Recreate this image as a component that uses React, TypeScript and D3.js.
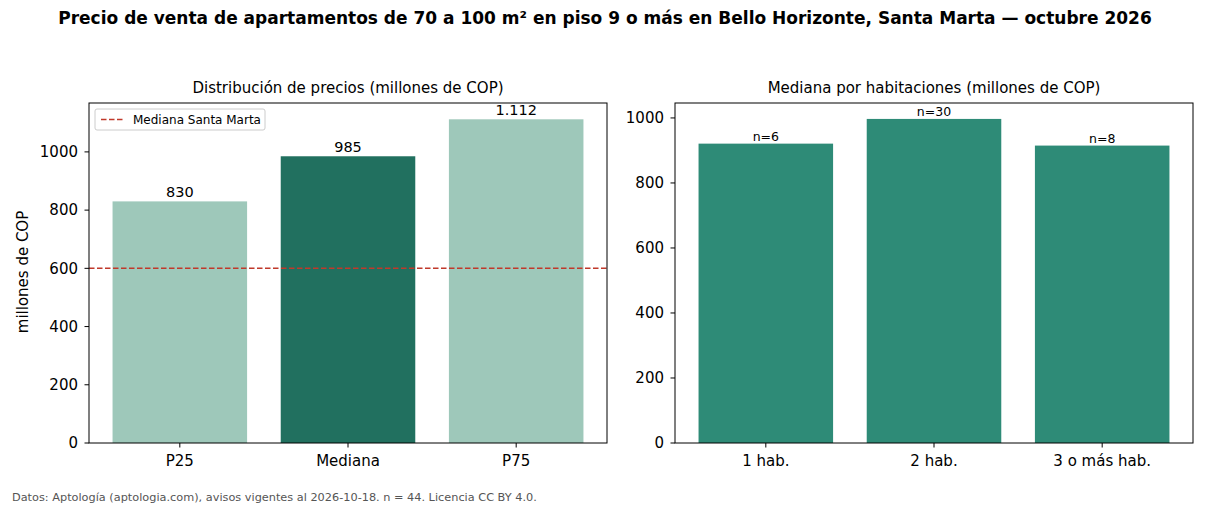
import React from "react";
import * as d3 from "d3";

const statLabels = ["P25", "Mediana", "P75"];
const statValues = [830, 985, 1112];
const statText = ["830", "985", "1.112"];
const statColors = ["#9ec8ba", "#21705f", "#9ec8ba"];

const roomLabels = ["1 hab.", "2 hab.", "3 o más hab."];
const roomValues = [921, 997, 915];
const roomCounts = [6, 30, 8];

const cityMedian = 600;
const leftTicks = [0, 200, 400, 600, 800, 1000];
const rightTicks = [0, 200, 400, 600, 800, 1000];

const W = 1210;
const H = 506;
const font = "DejaVu Sans, sans-serif";

function Panel({ x0, x1, y0, y1, labels, values, colors, yMax, ticks, title, top, children }) {
  const x = d3.scaleLinear().domain([-0.54, labels.length - 1 + 0.54]).range([x0, x1]);
  const y = d3.scaleLinear().domain([0, yMax]).range([y1, y0]);
  return (
    <g>
      {labels.map((l, i) => (
        <rect
          key={l}
          x={x(i - 0.4)}
          y={y(values[i])}
          width={x(i + 0.4) - x(i - 0.4)}
          height={y1 - y(values[i])}
          fill={colors[i]}
        />
      ))}
      {children && children(x, y)}
      {labels.map((l, i) => top(i, x(i), y(values[i])))}
      <rect x={x0} y={y0} width={x1 - x0} height={y1 - y0} fill="none" stroke="#000" strokeWidth={1} />
      {ticks.map((t) => (
        <g key={t}>
          <line x1={x0 - 4.5} x2={x0} y1={y(t)} y2={y(t)} stroke="#000" />
          <text x={x0 - 11} y={y(t)} dy="0.35em" textAnchor="end" fontSize={15} fontFamily={font}>
            {t}
          </text>
        </g>
      ))}
      {labels.map((l, i) => (
        <g key={l}>
          <line x1={x(i)} x2={x(i)} y1={y1} y2={y1 + 4.5} stroke="#000" />
          <text x={x(i)} y={y1 + 23} textAnchor="middle" fontSize={15} fontFamily={font}>
            {l}
          </text>
        </g>
      ))}
      <text x={(x0 + x1) / 2} y={y0 - 10} textAnchor="middle" fontSize={15} fontFamily={font}>
        {title}
      </text>
    </g>
  );
}

export default function App() {
  return (
    <svg width={W} height={H} style={{ position: "absolute", left: 0, top: 0 }}>
      <rect width={W} height={H} fill="#fff" />
      <text x={605} y={24} textAnchor="middle" fontSize={17} fontWeight="bold" fontFamily={font}>
        Precio de venta de apartamentos de 70 a 100 m² en piso 9 o más en Bello Horizonte, Santa Marta — octubre 2026
      </text>
      <Panel
        x0={89}
        x1={607}
        y0={103}
        y1={443}
        labels={statLabels}
        values={statValues}
        colors={statColors}
        yMax={1168}
        ticks={leftTicks}
        title="Distribución de precios (millones de COP)"
        top={(i, cx, cy) => (
          <text key={i} x={cx} y={cy - 4} textAnchor="middle" fontSize={14.5} fontFamily={font}>
            {statText[i]}
          </text>
        )}
      >
        {(x, y) => (
          <g>
            <line x1={89} x2={607} y1={y(cityMedian)} y2={y(cityMedian)} stroke="#c0392b" strokeWidth={1.5} strokeDasharray="5.5,2.5" />
            <rect x={95} y={109} width={170} height={21} rx={2} fill="#fff" fillOpacity={0.8} stroke="#ccc" />
            <line x1={101} x2={125} y1={119.5} y2={119.5} stroke="#c0392b" strokeWidth={1.5} strokeDasharray="5.5,2.5" />
            <text x={133} y={119.5} dy="0.35em" fontSize={12} fontFamily={font}>
              Mediana Santa Marta
            </text>
          </g>
        )}
      </Panel>
      <Panel
        x0={675}
        x1={1193}
        y0={103}
        y1={443}
        labels={roomLabels}
        values={roomValues}
        colors={roomLabels.map(() => "#2e8b77")}
        yMax={1046}
        ticks={rightTicks}
        title="Mediana por habitaciones (millones de COP)"
        top={(i, cx, cy) => (
          <text key={i} x={cx} y={cy - 3} textAnchor="middle" fontSize={12.5} fontFamily={font}>
            {`n=${roomCounts[i]}`}
          </text>
        )}
      />
      <text
        transform="translate(28,272) rotate(-90)"
        textAnchor="middle"
        fontSize={15}
        fontFamily={font}
      >
        millones de COP
      </text>
      <text x={12} y={501} fontSize={11.3} fill="#555" fontFamily={font}>
        Datos: Aptología (aptologia.com), avisos vigentes al 2026-10-18. n = 44. Licencia CC BY 4.0.
      </text>
    </svg>
  );
}
